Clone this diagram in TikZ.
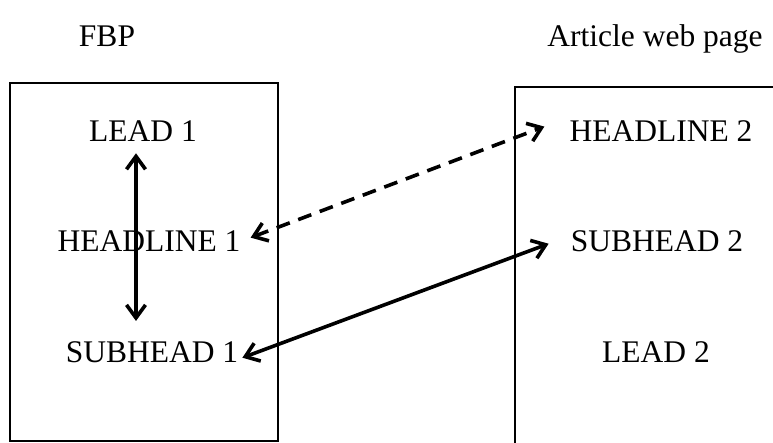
\documentclass[tikz,border=0pt]{standalone}
\usepackage{fontspec}
\setmainfont{Liberation Serif}
\usetikzlibrary{arrows.meta}
\begin{document}
\begin{tikzpicture}[x=1pt,y=-1pt,
  lbl/.style={inner sep=0pt,anchor=base,font=\fontsize{31.5}{36}\selectfont},
  panel/.style={draw,line width=2.2pt},
  link/.style={line width=3.6pt,{Straight Barb[length=13pt,width=19pt]}-{Straight Barb[length=13pt,width=19pt]}}]
\useasboundingbox (0,0) rectangle (773,443);
\clip (0,0) rectangle (773,443);
\fill[white] (0,0) rectangle (773,443);
% titles
\node[lbl] (t1) at (107,47) {FBP};
\node[lbl] (t2) at (655,47) {Article web page};
% panels
\draw[panel] (10,83) rectangle (278,441);
\draw[panel] (515,87) rectangle (800,470);
% left texts
\node[lbl] (l1) at (143,142) {LEAD 1};
\node[lbl] (h1) at (149,252) {HEADLINE 1};
\node[lbl] (s1) at (152,362) {SUBHEAD 1};
% right texts
\node[lbl] (h2) at (661,142) {HEADLINE 2};
\node[lbl] (s2) at (657,252) {SUBHEAD 2};
\node[lbl] (l2) at (656,362) {LEAD 2};
% connectors
\draw[link] ([xshift=-7pt,yshift=-11pt]l1.south) -- ([xshift=-16pt,yshift=20pt]s1.north);
\draw[link,dash pattern=on 14pt off 9pt] ([xshift=10pt,yshift=4pt]h1.east) -- ([xshift=-25pt,yshift=5pt]h2.west);
\draw[link] ([xshift=4pt,yshift=-6pt]s1.east) -- ([xshift=-22pt,yshift=-2pt]s2.west);
\end{tikzpicture}
\end{document}
